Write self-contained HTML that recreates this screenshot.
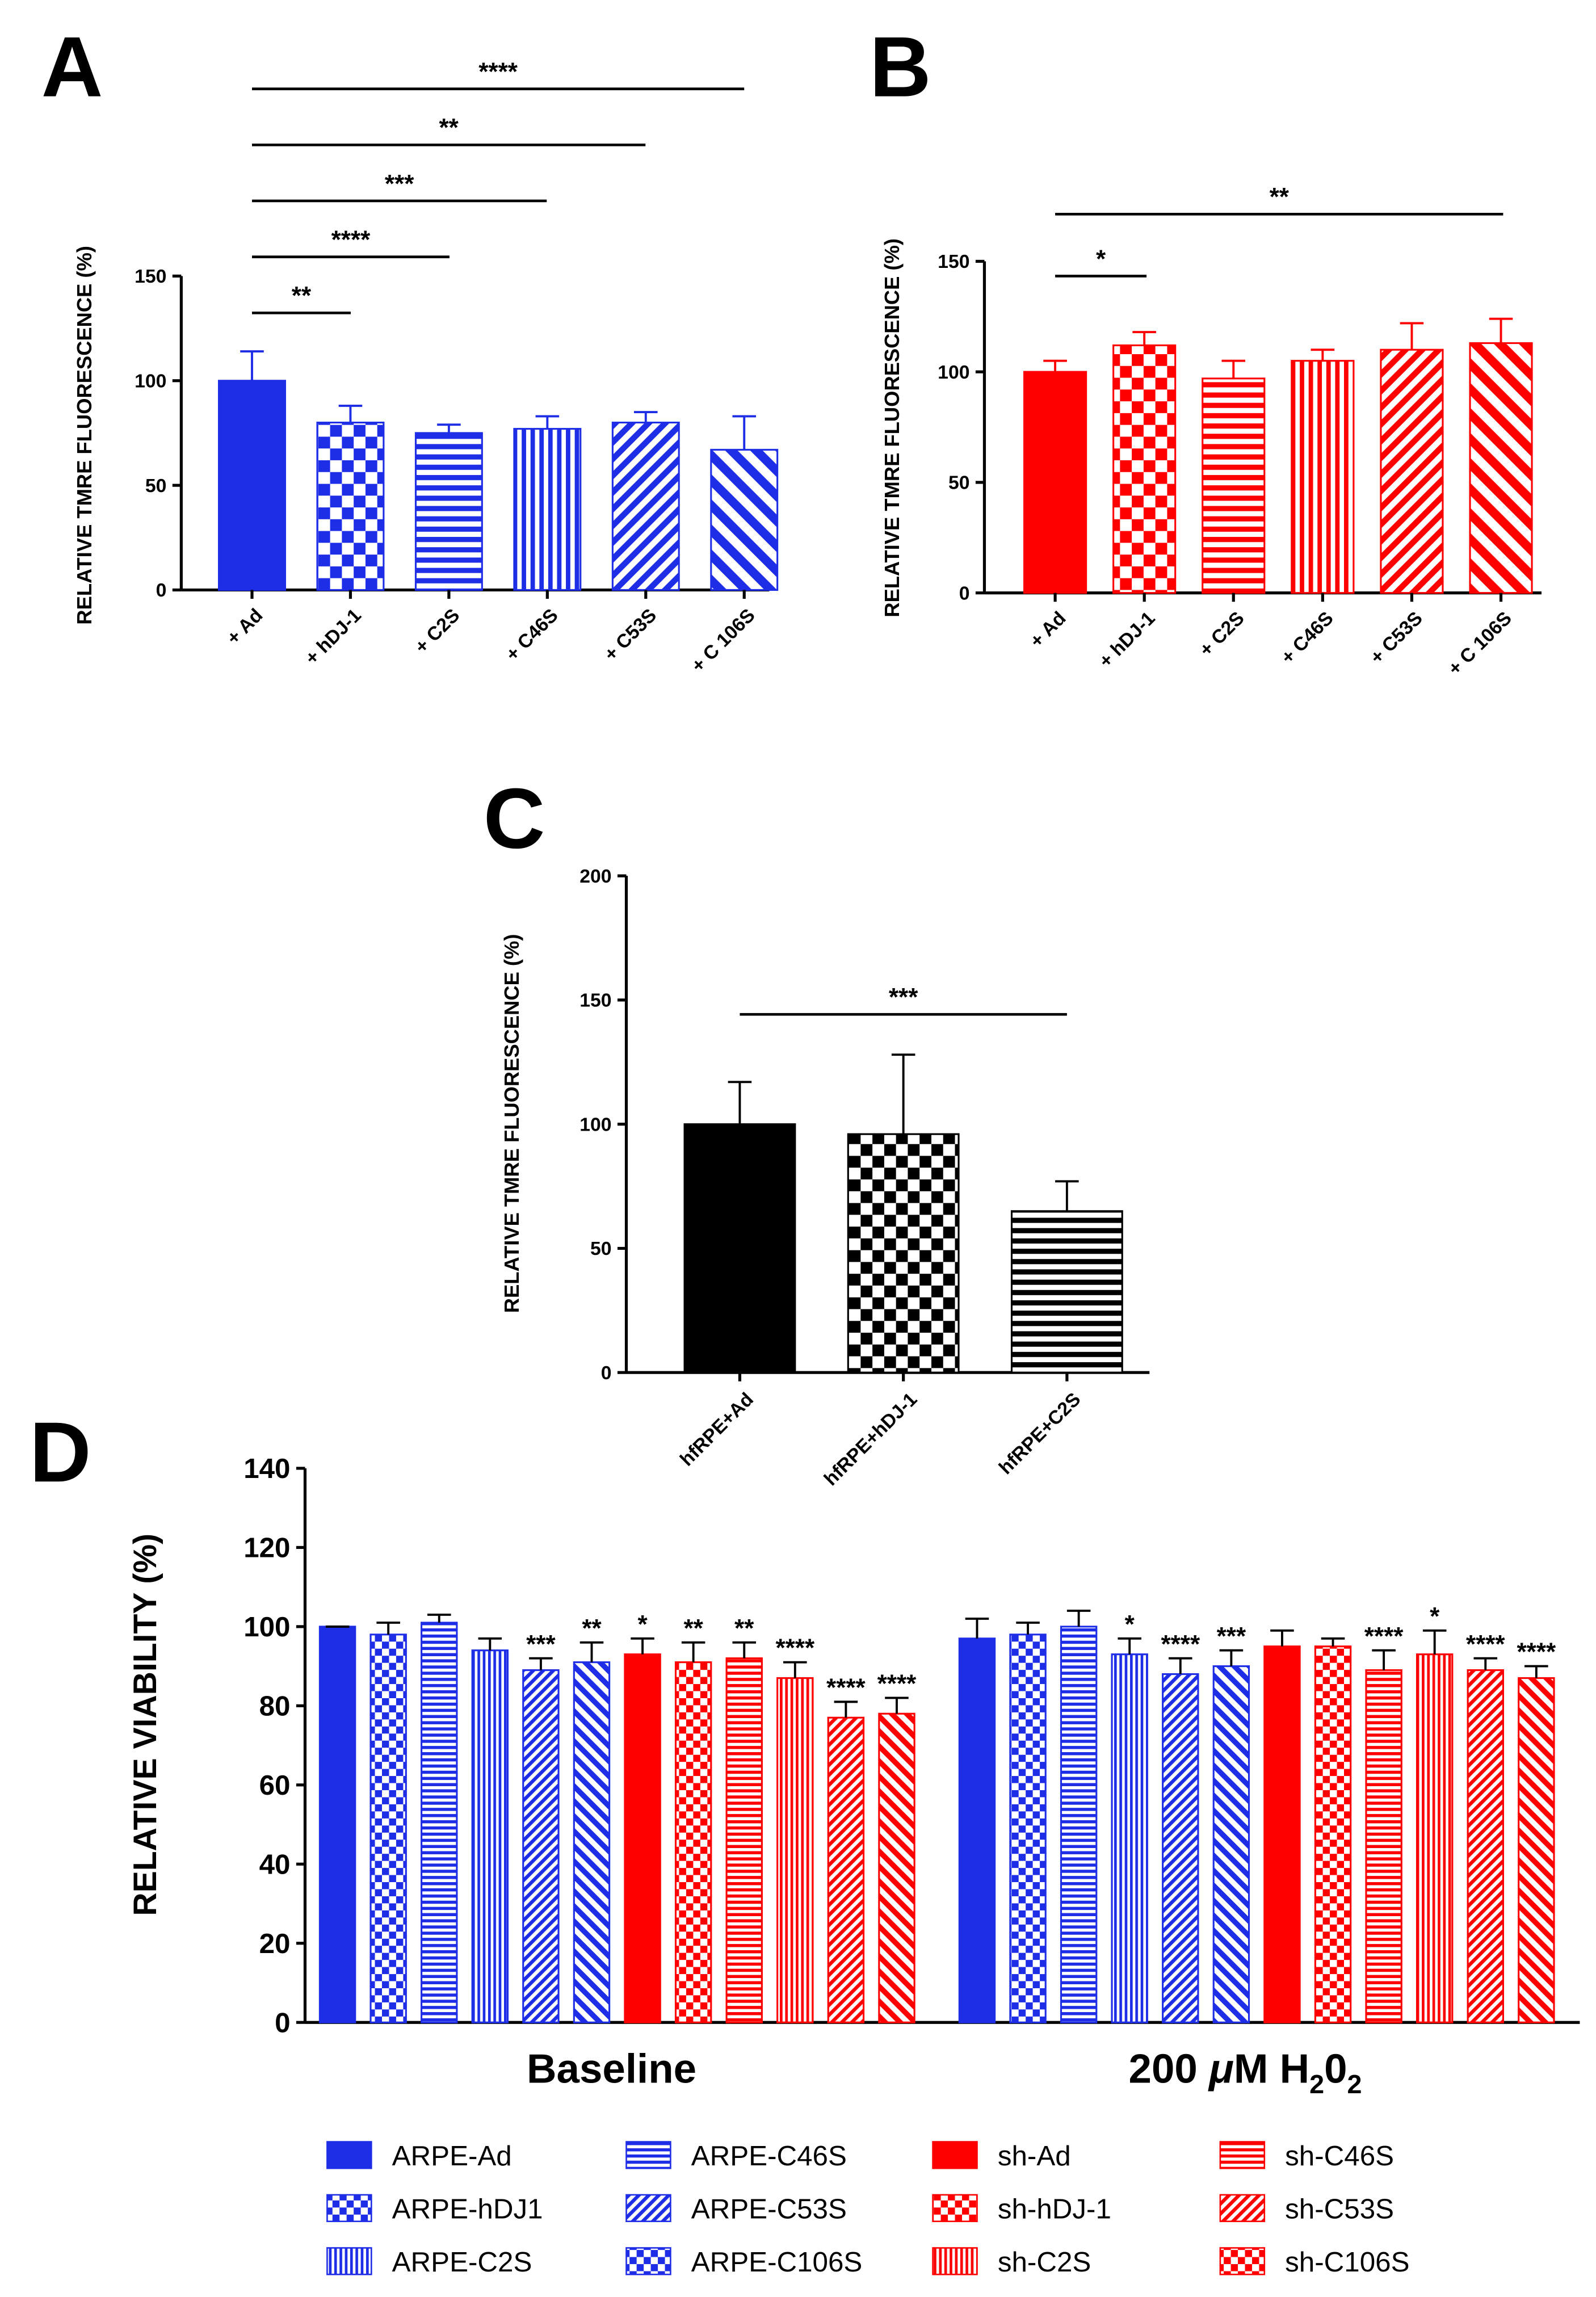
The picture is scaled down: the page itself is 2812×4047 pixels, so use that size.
<!DOCTYPE html>
<html><head><meta charset="utf-8"><style>
html,body{margin:0;padding:0;background:#fff}
svg{display:block;font-family:"Liberation Sans",Arial,sans-serif}
</style></head><body>
<svg id="s" width="2812" height="4047" viewBox="0 0 1083 1558" xmlns="http://www.w3.org/2000/svg">
<defs id="defs"></defs>
<g id="root"></g>
</svg>
<script>
// Panel A data
const aCats=["+ Ad","+ hDJ-1","+ C2S","+ C46S","+ C53S","+ C 106S"];
const aVals=[100,80,75,77,80,67];
const aErr=[114,88,79,83,85,83];
const aTicks=[0,50,100,150];
// Panel B data
const bCats=["+ Ad","+ hDJ-1","+ C2S","+ C46S","+ C53S","+ C 106S"];
const bVals=[100,112,97,105,110,113];
const bErr=[105,118,105,110,122,124];
const bTicks=[0,50,100,150];
// Panel C data
const cCats=["hfRPE+Ad","hfRPE+hDJ-1","hfRPE+C2S"];
const cVals=[100,96,65];
const cErr=[117,128,77];
const cTicks=[0,50,100,150,200];
// Panel D data
const dBase=[100,98,101,94,89,91,93,91,92,87,77,78];
const dBaseErr=[100,101,103,97,92,96,97,96,96,91,81,82];
const dBaseStars=["","","","","***","**","*","**","**","****","****","****"];
const dH2=[97,98,100,93,88,90,95,95,89,93,89,87];
const dH2Err=[102,101,104,97,92,94,99,97,94,99,92,90];
const dH2Stars=["","","","*","****","***","","","****","*","****","****"];
const dTicks=[0,20,40,60,80,100,120,140];
const legendNames=["ARPE-Ad","ARPE-hDJ1","ARPE-C2S","ARPE-C46S","ARPE-C53S","ARPE-C106S","sh-Ad","sh-hDJ-1","sh-C2S","sh-C46S","sh-C53S","sh-C106S"];

const NS="http://www.w3.org/2000/svg";
const root=document.getElementById('root');
const defs=document.getElementById('defs');
function el(tag,attrs,parent,text){const e=document.createElementNS(NS,tag);for(const k in attrs)e.setAttribute(k,attrs[k]);if(text!==undefined)e.textContent=text;(parent||root).appendChild(e);return e;}
const BLUE="#1e2de6",RED="#ff0000",BLACK="#000";
const pats=["solid","check","hstripe","vstripe","diag","diag2"];
function makePat(id,color,type,sc){
  sc=sc||1;
  if(type==="solid")return;
  let p;
  if(type==="check"){p=el('pattern',{id:id,width:16*sc,height:16*sc,patternUnits:'userSpaceOnUse'},defs);
    el('rect',{width:16*sc,height:16*sc,fill:'#fff'},p);el('rect',{width:8*sc,height:8*sc,fill:color},p);el('rect',{x:8*sc,y:8*sc,width:8*sc,height:8*sc,fill:color},p);}
  if(type==="hstripe"){p=el('pattern',{id:id,width:8,height:7*sc,patternUnits:'userSpaceOnUse'},defs);
    el('rect',{width:8,height:7*sc,fill:'#fff'},p);el('rect',{width:8,height:3.5*sc,fill:color},p);}
  if(type==="vstripe"){p=el('pattern',{id:id,width:6*sc,height:8,patternUnits:'userSpaceOnUse'},defs);
    el('rect',{width:6*sc,height:8,fill:'#fff'},p);el('rect',{width:3*sc,height:8,fill:color},p);}
  if(type==="diag"||type==="diag2"){const w=(type==="diag"?8:12)*sc;p=el('pattern',{id:id,width:w,height:w,patternUnits:'userSpaceOnUse',patternTransform:'rotate('+(type==="diag"?45:-45)+')'},defs);
    el('rect',{width:w,height:w,fill:'#fff'},p);el('rect',{width:w/2,height:w,fill:color},p);}
}
[["b",BLUE],["r",RED],["k",BLACK]].forEach(([c,col])=>{pats.forEach(t=>{makePat(c+t,col,t,1);makePat(c+t+"s",col,t,0.6);});});
function fillFor(c,col,t,small){return t==="solid"?col:"url(#"+c+t+(small?"s":"")+")";}

function axis(x0,y0,y1,x1,ticks,vmax,fs,bold,name){
  const g=el('g',{});
  el('line',{x1:x0,y1:y0,x2:x0,y2:y1,stroke:'#000','stroke-width':2},g);
  el('line',{x1:x0,y1:y0,x2:x1,y2:y0,stroke:'#000','stroke-width':2},g);
  ticks.forEach(t=>{const y=y0-(y0-y1)*t/vmax;el('line',{x1:x0-6,y1:y,x2:x0,y2:y,stroke:'#000','stroke-width':2},g);
    const tx=el('text',{x:x0-10,y:y+fs*0.35,'text-anchor':'end','font-size':fs,'font-weight':bold?'bold':'normal'},g,t);});
  return v=>y0-(y0-y1)*v/vmax;
}
function bar(cx,w,y0,yv,fill,col,name){const r=el('rect',{x:cx-w/2,y:yv,width:w,height:y0-yv,fill:fill,stroke:col,'stroke-width':1.2});}
function err(cx,yv,ye,col){el('line',{x1:cx,y1:yv,x2:cx,y2:ye,stroke:col,'stroke-width':1.5});el('line',{x1:cx-8,y1:ye,x2:cx+8,y2:ye,stroke:col,'stroke-width':1.5});}
function sig(xa,xb,y,txt,fs){const l=el('line',{x1:xa,y1:y,x2:xb,y2:y,stroke:'#000','stroke-width':1.8});
  const t=el('text',{x:(xa+xb)/2,y:y-6,'text-anchor':'middle','font-size':fs||17,'font-weight':'bold'},root,txt);}
function letter(x,y,t){const e=el('text',{x:x,y:y,'font-size':58,'font-weight':'bold'},root,t);}
function ylab(x,y,t,fs){const e=el('text',{x:x,y:y,'font-size':fs,'font-weight':'bold','text-anchor':'middle',transform:'rotate(-90 '+x+' '+y+')'},root,t);}
function xlab(x,y,t,fs){const e=el('text',{x:x,y:y,'font-size':fs,'font-weight':'bold','text-anchor':'end',transform:'rotate(-45 '+x+' '+y+')'},root,t);}

// Panel A
letter(28,65,"A");
let ya=axis(123,400,187,522,aTicks,150,13,true,'panel-a-axes');
aCats.forEach((c,i)=>{const cx=171+i*66.8;bar(cx,45,400,ya(aVals[i]),fillFor('b',BLUE,pats[i]),BLUE,'panel-a-bar');err(cx,ya(aVals[i]),ya(aErr[i]),BLUE);
  el('line',{x1:cx,y1:400,x2:cx,y2:406,stroke:'#000','stroke-width':2});xlab(cx+8,418,c,13);});
ylab(62,295,"RELATIVE  TMRE FLUORESCENCE (%)",14);
sig(171,505,60,"****");sig(171,438,98,"**");sig(171,371,136,"***");sig(171,305,174,"****");sig(171,238,212,"**");

// Panel B
letter(590,65,"B");
let yb=axis(668,402,177,1046,bTicks,150,13,true,'panel-b-axes');
bCats.forEach((c,i)=>{const cx=716+i*60.5;bar(cx,42,402,yb(bVals[i]),fillFor('r',RED,pats[i]),RED,'panel-b-bar');err(cx,yb(bVals[i]),yb(bErr[i]),RED);
  el('line',{x1:cx,y1:402,x2:cx,y2:408,stroke:'#000','stroke-width':2});xlab(cx+8,420,c,13);});
ylab(610,290,"RELATIVE  TMRE  FLUORESCENCE (%)",14);
sig(716,1020,145,"**");sig(716,778,187,"*");

// Panel C
letter(328,575,"C");
let yc=axis(425,931,594,780,cTicks,200,13,true,'panel-c-axes');
cCats.forEach((c,i)=>{const cx=502+i*111;bar(cx,75,931,yc(cVals[i]),fillFor('k',BLACK,pats[i]),BLACK,'panel-c-bar');err(cx,yc(cVals[i]),yc(cErr[i]),BLACK);
  el('line',{x1:cx,y1:931,x2:cx,y2:937,stroke:'#000','stroke-width':2});xlab(cx+10,950,c,13);});
ylab(352,762,"RELATIVE  TMRE FLUORESCENCE (%)",14);
sig(502,724,688,"***");

// Panel D
letter(20,1005,"D");
let yd=axis(207,1372,996,1072,dTicks,140,19,true,'panel-d-axes');
function dGroup(start,vals,errs,stars){vals.forEach((v,i)=>{const cx=start+i*34.5;const isB=i<6;const col=isB?BLUE:RED;
  bar(cx,24,1372,yd(v),fillFor(isB?'b':'r',col,pats[i%6],true),col,'panel-d-bar');err(cx,yd(v),yd(errs[i]),'#000');
  if(stars[i]){const t=el('text',{x:cx,y:yd(errs[i])-4,'text-anchor':'middle','font-size':17,'font-weight':'bold'},root,stars[i]);}});}
dGroup(229,dBase,dBaseErr,dBaseStars);
dGroup(663,dH2,dH2Err,dH2Stars);
ylab(106,1170,"RELATIVE  VIABILITY (%)",22);
let t1=el('text',{x:415,y:1413,'text-anchor':'middle','font-size':28,'font-weight':'bold'},root,"Baseline");
let t2=el('text',{x:845,y:1413,'text-anchor':'middle','font-size':28,'font-weight':'bold'},root);
t2.innerHTML='200 <tspan font-style="italic">μ</tspan>M H<tspan font-size="18" dy="7">2</tspan><tspan dy="-7">0</tspan><tspan font-size="18" dy="7">2</tspan>';

// Legend
const lcols=[222,425,633,828],lrows=[1462,1498,1534];
const legOrder=[0,1,2,3,4,5,6,7,8,9,10,11];
const legPat=["solid","check","vstripe","hstripe","diag","check"];
legOrder.forEach(k=>{const col=Math.floor(k/3),row=k%3;const x=lcols[col],y=lrows[row];const isB=k<6;const c=isB?BLUE:RED;
  const g=el('g',{});
  el('rect',{x:x,y:y-9,width:30,height:18,fill:fillFor(isB?'b':'r',c,legPat[k%6],true),stroke:c,'stroke-width':1},g);
  el('text',{x:x+44,y:y+7,'font-size':19},g,legendNames[k]);});
</script>
</body></html>
